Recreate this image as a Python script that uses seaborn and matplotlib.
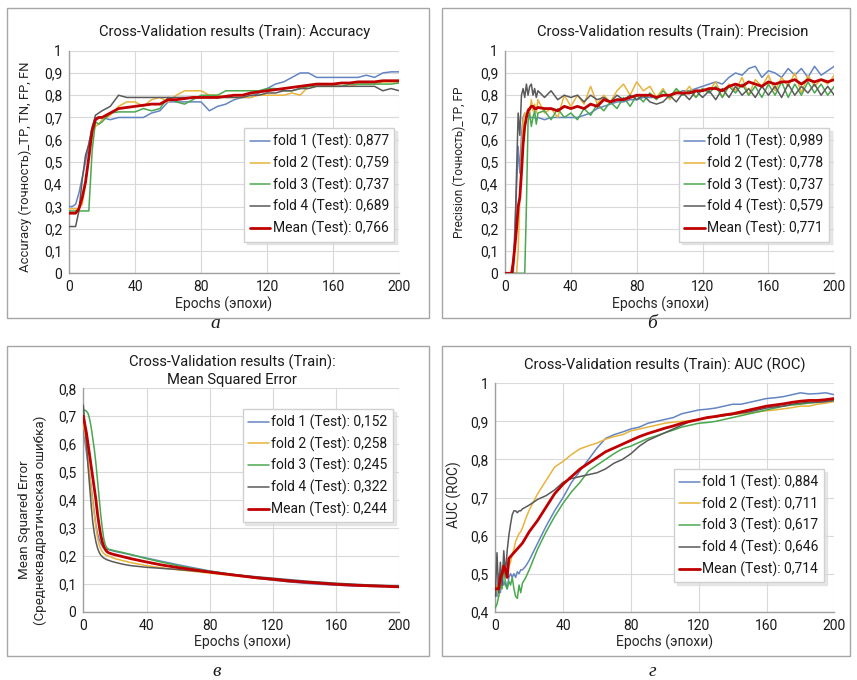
import numpy as np
import pandas as pd
import seaborn as sns
import matplotlib.pyplot as plt
from matplotlib.patches import Rectangle

# ---------------- data ----------------
# Accuracy
x_acc = [0, 2, 4, 6, 8, 10, 12, 14, 16, 18, 20] + list(range(25, 201, 5))
acc_f1 = [0.30, 0.30, 0.31, 0.36, 0.43, 0.50, 0.58, 0.66, 0.70, 0.70, 0.70,
          0.69, 0.70, 0.70, 0.70, 0.70, 0.72, 0.73, 0.77, 0.77, 0.77, 0.77, 0.77, 0.73, 0.75, 0.76, 0.78,
          0.79, 0.79, 0.81, 0.83, 0.85, 0.86, 0.88, 0.90, 0.90, 0.88, 0.88, 0.88, 0.88, 0.88, 0.88, 0.89,
          0.88, 0.90, 0.905, 0.905]
acc_f2 = [0.29, 0.29, 0.29, 0.29, 0.31, 0.40, 0.52, 0.62, 0.66, 0.67, 0.69,
          0.71, 0.75, 0.77, 0.77, 0.75, 0.78, 0.79, 0.77, 0.80, 0.82, 0.82, 0.82, 0.80, 0.80, 0.79, 0.79,
          0.79, 0.79, 0.80, 0.80, 0.80, 0.80, 0.81, 0.80, 0.84, 0.84, 0.84, 0.84, 0.84, 0.84, 0.85, 0.85,
          0.85, 0.86, 0.86, 0.86]
acc_f3 = [0.28, 0.28, 0.28, 0.28, 0.28, 0.28, 0.28, 0.55, 0.68, 0.67, 0.68,
          0.72, 0.725, 0.725, 0.725, 0.74, 0.73, 0.74, 0.79, 0.77, 0.76, 0.78, 0.80, 0.80, 0.80, 0.82, 0.82,
          0.82, 0.82, 0.82, 0.83, 0.83, 0.82, 0.82, 0.83, 0.84, 0.84, 0.84, 0.84, 0.84, 0.85, 0.85, 0.85,
          0.85, 0.85, 0.85, 0.855]
acc_f4 = [0.21, 0.21, 0.21, 0.28, 0.42, 0.53, 0.58, 0.65, 0.71, 0.72, 0.73,
          0.75, 0.80, 0.79, 0.79, 0.79, 0.79, 0.79, 0.79, 0.79, 0.79, 0.79, 0.79, 0.79, 0.79, 0.79, 0.79,
          0.79, 0.80, 0.80, 0.81, 0.81, 0.82, 0.82, 0.83, 0.83, 0.84, 0.84, 0.84, 0.84, 0.84, 0.84, 0.84,
          0.84, 0.82, 0.83, 0.82]
acc_mean = [0.27, 0.27, 0.27, 0.29, 0.34, 0.41, 0.52, 0.64, 0.69, 0.70, 0.70,
            0.72, 0.74, 0.745, 0.75, 0.755, 0.76, 0.76, 0.78, 0.78, 0.785, 0.79, 0.79, 0.79, 0.79, 0.795, 0.80,
            0.80, 0.81, 0.815, 0.82, 0.825, 0.83, 0.835, 0.84, 0.845, 0.85, 0.85, 0.85, 0.855, 0.855, 0.86, 0.86,
            0.86, 0.865, 0.865, 0.865]
acc_labels = ['fold 1 (Test): 0,877', 'fold 2 (Test): 0,759', 'fold 3 (Test): 0,737',
              'fold 4 (Test): 0,689', 'Mean (Test): 0,766']

# Precision
x_prec = list(range(0, 21)) + list(range(24, 201, 4))
prec_f1 = [0, 0, 0, 0, 0, 0.05, 0.20, 0.38, 0.57, 0.45, 0.62, 0.70, 0.72, 0.70, 0.71, 0.70, 0.70, 0.70, 0.70, 0.69, 0.70,
           0.69, 0.70, 0.70, 0.70, 0.70, 0.70, 0.71, 0.72, 0.74, 0.75,
           0.76, 0.77, 0.77, 0.78, 0.78, 0.79, 0.79, 0.79, 0.80, 0.80,
           0.81, 0.82, 0.82, 0.83, 0.84, 0.85, 0.86, 0.85, 0.88, 0.90,
           0.89, 0.92, 0.93, 0.88, 0.91, 0.90, 0.88, 0.92, 0.89, 0.92,
           0.88, 0.93, 0.89, 0.91, 0.93]
prec_f2 = [0, 0, 0, 0, 0, 0, 0, 0, 0.10, 0.35, 0.55, 0.68, 0.72, 0.70, 0.74, 0.72, 0.78, 0.73, 0.76, 0.72, 0.78,
           0.72, 0.74, 0.70, 0.80, 0.75, 0.80, 0.76, 0.84, 0.76, 0.80,
           0.77, 0.82, 0.85, 0.80, 0.86, 0.82, 0.84, 0.79, 0.83, 0.78,
           0.82, 0.80, 0.84, 0.79, 0.83, 0.82, 0.86, 0.79, 0.85, 0.82,
           0.88, 0.80, 0.87, 0.84, 0.89, 0.82, 0.88, 0.84, 0.90, 0.81,
           0.89, 0.84, 0.87, 0.85, 0.89]
prec_f3 = [0, 0, 0, 0, 0, 0, 0, 0, 0, 0, 0, 0, 0, 0.30, 0.68, 0.72, 0.66, 0.70, 0.73, 0.67, 0.72,
           0.73, 0.69, 0.74, 0.70, 0.72, 0.69, 0.74, 0.71, 0.76, 0.73,
           0.77, 0.74, 0.79, 0.75, 0.80, 0.77, 0.81, 0.78, 0.82, 0.79,
           0.83, 0.80, 0.82, 0.79, 0.83, 0.81, 0.84, 0.79, 0.84, 0.81,
           0.85, 0.80, 0.84, 0.79, 0.85, 0.80, 0.86, 0.79, 0.85, 0.80,
           0.86, 0.81, 0.85, 0.80, 0.84]
prec_f4 = [0, 0, 0, 0, 0, 0, 0.15, 0.45, 0.72, 0.62, 0.80, 0.83, 0.79, 0.85, 0.80, 0.84, 0.85, 0.80, 0.83, 0.79, 0.82,
           0.79, 0.82, 0.78, 0.80, 0.79, 0.80, 0.77, 0.80, 0.78, 0.79,
           0.77, 0.80, 0.78, 0.80, 0.78, 0.80, 0.77, 0.76, 0.77, 0.80,
           0.77, 0.81, 0.78, 0.82, 0.79, 0.82, 0.78, 0.83, 0.79, 0.84,
           0.80, 0.83, 0.79, 0.84, 0.80, 0.84, 0.79, 0.85, 0.80, 0.84,
           0.81, 0.85, 0.80, 0.84, 0.80]
prec_mean = [0, 0, 0, 0, 0, 0.05, 0.12, 0.20, 0.30, 0.34, 0.45, 0.58, 0.66, 0.70, 0.73, 0.74, 0.75, 0.75, 0.74, 0.74, 0.745,
             0.74, 0.74, 0.73, 0.75, 0.74, 0.75, 0.74, 0.76, 0.75, 0.78,
             0.77, 0.78, 0.78, 0.79, 0.80, 0.80, 0.80, 0.79, 0.80, 0.80,
             0.81, 0.81, 0.81, 0.82, 0.82, 0.83, 0.83, 0.82, 0.84, 0.85,
             0.84, 0.86, 0.85, 0.84, 0.86, 0.85, 0.86, 0.86, 0.87, 0.85,
             0.87, 0.86, 0.87, 0.86, 0.87]
prec_labels = ['fold 1 (Test): 0,989', 'fold 2 (Test): 0,778', 'fold 3 (Test): 0,737',
               'fold 4 (Test): 0,579', 'Mean (Test): 0,771']

# Mean Squared Error
x_mse = list(range(0, 17)) + [18, 20, 25, 30] + list(range(40, 201, 10))
mse_f1 = [0.65, 0.61, 0.57, 0.53, 0.49, 0.445, 0.40, 0.355, 0.31, 0.28, 0.26, 0.245, 0.235, 0.228, 0.225, 0.223, 0.222,
          0.219, 0.216, 0.21, 0.204,
          0.192, 0.18, 0.168, 0.157, 0.146, 0.137, 0.128, 0.12, 0.113, 0.107, 0.102, 0.098, 0.095, 0.093, 0.091, 0.09, 0.089]
mse_f2 = [0.68, 0.635, 0.59, 0.54, 0.49, 0.44, 0.39, 0.345, 0.30, 0.265, 0.24, 0.225, 0.215, 0.208, 0.204, 0.201, 0.199,
          0.195, 0.19, 0.183, 0.176,
          0.165, 0.157, 0.15, 0.144, 0.138, 0.132, 0.126, 0.12, 0.115, 0.11, 0.106, 0.102, 0.099, 0.096, 0.094, 0.092, 0.09]
mse_f3 = [0.72, 0.722, 0.718, 0.71, 0.69, 0.66, 0.62, 0.58, 0.53, 0.47, 0.41, 0.35, 0.30, 0.26, 0.238, 0.228, 0.224,
          0.221, 0.218, 0.212, 0.205,
          0.19, 0.177, 0.165, 0.154, 0.145, 0.137, 0.13, 0.123, 0.117, 0.112, 0.107, 0.103, 0.099, 0.096, 0.094, 0.092, 0.09]
mse_f4 = [0.74, 0.67, 0.60, 0.52, 0.45, 0.38, 0.32, 0.28, 0.25, 0.228, 0.213, 0.203, 0.197, 0.192, 0.189, 0.186, 0.184,
          0.18, 0.177, 0.17, 0.165,
          0.159, 0.155, 0.151, 0.146, 0.141, 0.135, 0.13, 0.125, 0.12, 0.115, 0.11, 0.106, 0.102, 0.099, 0.096, 0.094, 0.092]
mse_mean = [0.70, 0.67, 0.64, 0.60, 0.56, 0.52, 0.48, 0.44, 0.40, 0.35, 0.31, 0.275, 0.25, 0.232, 0.222, 0.215, 0.211,
            0.207, 0.204, 0.197, 0.19,
            0.178, 0.167, 0.158, 0.15, 0.142, 0.135, 0.128, 0.121, 0.116, 0.11, 0.106, 0.102, 0.098, 0.095, 0.093, 0.091, 0.089]
mse_labels = ['fold 1 (Test): 0,152', 'fold 2 (Test): 0,258', 'fold 3 (Test): 0,245',
              'fold 4 (Test): 0,322', 'Mean (Test): 0,244']

# AUC (ROC)
x_auc = list(range(0, 17)) + [18, 20] + list(range(25, 201, 5))
auc_f1 = [0.46, 0.44, 0.50, 0.45, 0.49, 0.47, 0.48, 0.46, 0.49, 0.50, 0.49, 0.50, 0.49, 0.505, 0.50, 0.51, 0.51,
          0.52, 0.535,
          0.58, 0.625, 0.665, 0.70, 0.74, 0.77, 0.80, 0.83, 0.855, 0.865, 0.872,
          0.88, 0.885, 0.895, 0.90, 0.905, 0.91, 0.92, 0.925, 0.93, 0.932, 0.935, 0.94, 0.945,
          0.945, 0.95, 0.955, 0.96, 0.962, 0.965, 0.97, 0.975, 0.972, 0.973, 0.975, 0.97]
auc_f2 = [0.45, 0.47, 0.44, 0.50, 0.48, 0.51, 0.52, 0.50, 0.52, 0.53, 0.55, 0.565, 0.585, 0.595, 0.605, 0.61, 0.62,
          0.645, 0.667,
          0.71, 0.745, 0.78, 0.795, 0.813, 0.828, 0.836, 0.843, 0.853, 0.86, 0.865,
          0.875, 0.88, 0.885, 0.89, 0.895, 0.898, 0.90, 0.902, 0.905, 0.908, 0.912, 0.915, 0.918,
          0.92, 0.922, 0.925, 0.928, 0.93, 0.933, 0.936, 0.94, 0.94, 0.945, 0.948, 0.952]
auc_f3 = [0.41, 0.42, 0.44, 0.47, 0.46, 0.53, 0.47, 0.46, 0.48, 0.47, 0.49, 0.46, 0.44, 0.435, 0.47, 0.45, 0.475,
          0.49, 0.51,
          0.565, 0.61, 0.65, 0.685, 0.715, 0.74, 0.77, 0.785, 0.80, 0.815, 0.828,
          0.835, 0.845, 0.855, 0.862, 0.87, 0.877, 0.885, 0.89, 0.895, 0.897, 0.90, 0.905, 0.91,
          0.915, 0.92, 0.925, 0.93, 0.935, 0.94, 0.943, 0.945, 0.948, 0.95, 0.952, 0.955]
auc_f4 = [0.44, 0.555, 0.45, 0.53, 0.47, 0.56, 0.50, 0.56, 0.60, 0.63, 0.655, 0.665, 0.665, 0.66, 0.665, 0.665, 0.67,
          0.675, 0.68,
          0.695, 0.705, 0.72, 0.74, 0.75, 0.755, 0.76, 0.765, 0.775, 0.79, 0.80,
          0.815, 0.835, 0.85, 0.86, 0.87, 0.88, 0.89, 0.90, 0.905, 0.91, 0.912, 0.915, 0.918,
          0.922, 0.925, 0.93, 0.935, 0.938, 0.94, 0.945, 0.948, 0.95, 0.95, 0.952, 0.955]
auc_mean = [0.46, 0.46, 0.46, 0.49, 0.50, 0.52, 0.51, 0.49, 0.54, 0.545, 0.55, 0.555, 0.56, 0.565, 0.57, 0.575, 0.58,
            0.595, 0.61,
            0.64, 0.675, 0.71, 0.735, 0.755, 0.775, 0.79, 0.805, 0.82, 0.83, 0.84,
            0.85, 0.86, 0.868, 0.875, 0.882, 0.888, 0.895, 0.90, 0.905, 0.91, 0.913, 0.917, 0.92,
            0.925, 0.93, 0.935, 0.94, 0.943, 0.946, 0.95, 0.953, 0.955, 0.955, 0.957, 0.96]
auc_labels = ['fold 1 (Test): 0,884', 'fold 2 (Test): 0,711', 'fold 3 (Test): 0,617',
              'fold 4 (Test): 0,646', 'Mean (Test): 0,714']

# ---------------- style ----------------
sns.set_style('white')
plt.rcParams['font.family'] = ['Roboto', 'DejaVu Sans']
plt.rcParams['text.color'] = '#1a1a1a'
colors = ['#6485c2', '#e8b43c', '#4aa84f', '#5a5a5a', '#c00000']

W, H = 857, 680
fig = plt.figure(figsize=(W / 100, H / 100), dpi=100)


def px_rect(x0, y0, x1, y1):
    # pixel box (top-left origin) -> figure fraction [left, bottom, width, height]
    return [x0 / W, 1 - y1 / H, (x1 - x0) / W, (y1 - y0) / H]


def comma(v):
    return ('%g' % v).replace('.', ',')


def panel(rect, x, ys, labels, ylabel, ylim, yticks, leg_xy, ylab_xy, xlab_xy, ylab_size=10):
    ax = fig.add_axes(rect)
    for i, (y, lab) in enumerate(zip(ys, labels)):
        sns.lineplot(x=x, y=y, ax=ax, color=colors[i], lw=2.0 if i == 4 else 1.1,
                     label=lab, zorder=3 + i)
    ax.set_xlim(0, 200)
    ax.set_ylim(*ylim)
    ax.set_xticks(range(0, 201, 40))
    ax.set_yticks(yticks)
    ax.set_yticklabels([comma(v) for v in yticks])
    ax.grid(True, color='#d9d9d9', lw=0.8)
    for s in ['top', 'right']:
        ax.spines[s].set_visible(False)
    for s in ['left', 'bottom']:
        ax.spines[s].set_color('#a0a0a0')
        ax.spines[s].set_linewidth(1.0)
    ax.tick_params(length=3, width=0.8, color='#a0a0a0', pad=2, labelsize=10, labelcolor='#1a1a1a')
    ax.set_xlabel('Epochs (эпохи)', fontsize=10, va='top')
    ax.xaxis.set_label_coords(*xlab_xy)
    ax.set_ylabel(ylabel, fontsize=ylab_size)
    ax.yaxis.set_label_coords(*ylab_xy)
    ax.legend(loc='upper right', bbox_to_anchor=leg_xy, fontsize=10, frameon=True, fancybox=False,
              framealpha=1, edgecolor='#d0d0d0', shadow={'color': '0.85', 'alpha': 0.6},
              handlelength=1.5, handletextpad=0.15, labelspacing=0.46, borderpad=0.4,
              borderaxespad=0)
    return ax


panel(px_rect(69, 50.7, 399.3, 273.3), x_acc, [acc_f1, acc_f2, acc_f3, acc_f4, acc_mean], acc_labels,
      'Accuracy (точность)_TP, TN, FP, FN', (0, 1), np.round(np.arange(0, 1.01, 0.1), 1),
      (0.985, 0.652), (-0.112, 0.477), (0.467, -0.106), ylab_size=9.4)
panel(px_rect(505, 50.7, 834.3, 273.3), x_prec, [prec_f1, prec_f2, prec_f3, prec_f4, prec_mean], prec_labels,
      'Precision (Точность)_TP, FP', (0, 1), np.round(np.arange(0, 1.01, 0.1), 1),
      (0.984, 0.652), (-0.118, 0.5), (0.471, -0.106), ylab_size=8.6)
panel(px_rect(83.3, 388.3, 399.3, 611.7), x_mse, [mse_f1, mse_f2, mse_f3, mse_f4, mse_mean], mse_labels,
      'Mean Squared Error\n(Среднеквадратическая ошибка)', (0, 0.8), np.round(np.arange(0, 0.81, 0.1), 1),
      (0.98, 0.907), (-0.115, 0.41), (0.504, -0.104), ylab_size=9.6)
panel(px_rect(495.3, 383.3, 834.3, 611.7), x_auc, [auc_f1, auc_f2, auc_f3, auc_f4, auc_mean], auc_labels,
      'AUC (ROC)', (0.4, 1), np.round(np.arange(0.4, 1.01, 0.1), 1),
      (0.970, 0.625), (-0.098, 0.511), (0.50, -0.102))

# titles
fig.text(235 / W, 1 - 32 / H, 'Cross-Validation results (Train): Accuracy', ha='center', va='center', fontsize=10.6)
fig.text(673 / W, 1 - 32 / H, 'Cross-Validation results (Train): Precision', ha='center', va='center', fontsize=10.6)
fig.text(232 / W, 1 - 371 / H, 'Cross-Validation results (Train):\nMean Squared Error', ha='center', va='center',
         fontsize=10.6, linespacing=1.25)
fig.text(665 / W, 1 - 365 / H, 'Cross-Validation results (Train): AUC (ROC)', ha='center', va='center', fontsize=10.6)

# panel frames
for (x0, y0, x1, y1) in [(7, 8, 429, 318), (442, 8, 850, 318), (7, 346, 429, 656), (442, 346, 850, 656)]:
    l, b, w, h = px_rect(x0, y0, x1, y1)
    fig.add_artist(Rectangle((l, b), w, h, transform=fig.transFigure, fill=False, ec='#a6a6a6', lw=1))

# sub-captions
for (cx, cy, t) in [(215, 323, 'а'), (652, 323, 'б'), (217, 671, 'в'), (652, 671, 'г')]:
    fig.text(cx / W, 1 - cy / H, t, ha='center', va='center', fontsize=14, style='italic',
             family=['Liberation Serif', 'DejaVu Serif'])

fig.savefig('out.png', dpi=100)
